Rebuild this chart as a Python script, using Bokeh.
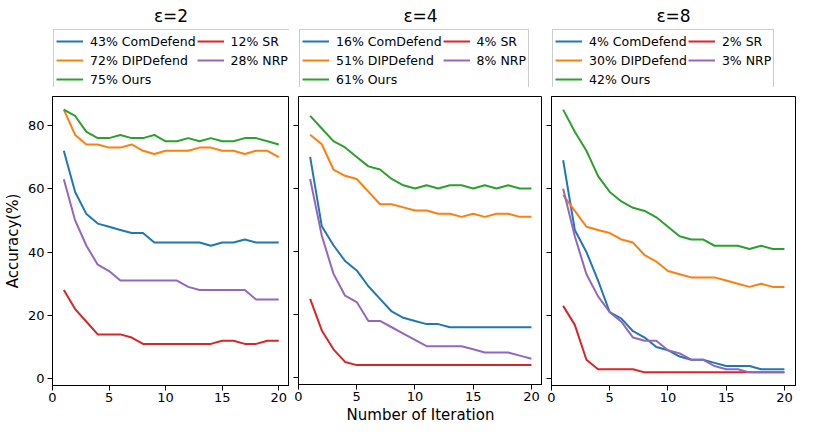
from bokeh.plotting import figure
from bokeh.models import (Legend, LegendItem, Range1d, SingleIntervalTicker,
                          CustomJSTickFormatter)
from bokeh.layouts import row, column
from bokeh.embed import file_html
from bokeh.resources import INLINE

# ---------------- data ----------------
iterations = list(range(1, 21))
methods = ["ComDefend", "DIPDefend", "Ours", "SR", "NRP"]
colors = ["#1f77b4", "#ff7f0e", "#2ca02c", "#d62728", "#9467bd"]
titles = ["ε=2", "ε=4", "ε=8"]

eps2_comdefend = [72, 59, 52, 49, 48, 47, 46, 46, 43, 43, 43, 43, 43, 42, 43, 43, 44, 43, 43, 43]
eps2_dipdefend = [85, 77, 74, 74, 73, 73, 74, 72, 71, 72, 72, 72, 73, 73, 72, 72, 71, 72, 72, 70]
eps2_ours      = [85, 83, 78, 76, 76, 77, 76, 76, 77, 75, 75, 76, 75, 76, 75, 75, 76, 76, 75, 74]
eps2_sr        = [28, 22, 18, 14, 14, 14, 13, 11, 11, 11, 11, 11, 11, 11, 12, 12, 11, 11, 12, 12]
eps2_nrp       = [63, 50, 42, 36, 34, 31, 31, 31, 31, 31, 31, 29, 28, 28, 28, 28, 28, 25, 25, 25]

eps4_comdefend = [70, 48, 42, 37, 34, 29, 25, 21, 19, 18, 17, 17, 16, 16, 16, 16, 16, 16, 16, 16]
eps4_dipdefend = [77, 74, 66, 64, 63, 59, 55, 55, 54, 53, 53, 52, 52, 51, 52, 51, 52, 52, 51, 51]
eps4_ours      = [83, 79, 75, 73, 70, 67, 66, 63, 61, 60, 61, 60, 61, 61, 60, 61, 60, 61, 60, 60]
eps4_sr        = [25, 15, 9, 5, 4, 4, 4, 4, 4, 4, 4, 4, 4, 4, 4, 4, 4, 4, 4, 4]
eps4_nrp       = [63, 45, 33, 26, 24, 18, 18, 16, 14, 12, 10, 10, 10, 10, 9, 8, 8, 8, 7, 6]

eps8_comdefend = [69, 47, 40, 31, 21, 19, 15, 13, 10, 9, 7, 6, 6, 5, 4, 4, 4, 3, 3, 3]
eps8_dipdefend = [58, 53, 48, 47, 46, 44, 43, 39, 37, 34, 33, 32, 32, 32, 31, 30, 29, 30, 29, 29]
eps8_ours      = [85, 78, 72, 64, 59, 56, 54, 53, 51, 48, 45, 44, 44, 42, 42, 42, 41, 42, 41, 41]
eps8_sr        = [23, 17, 6, 3, 3, 3, 3, 2, 2, 2, 2, 2, 2, 2, 2, 2, 2, 2, 2, 2]
eps8_nrp       = [60, 45, 33, 26, 21, 18, 13, 12, 12, 9, 8, 6, 6, 4, 3, 3, 2, 2, 2, 2]

eps2_pct = [43, 72, 75, 12, 28]
eps4_pct = [16, 51, 61, 4, 8]
eps8_pct = [4, 30, 42, 2, 3]

panels = [
    (titles[0], [eps2_comdefend, eps2_dipdefend, eps2_ours, eps2_sr, eps2_nrp], eps2_pct),
    (titles[1], [eps4_comdefend, eps4_dipdefend, eps4_ours, eps4_sr, eps4_nrp], eps4_pct),
    (titles[2], [eps8_comdefend, eps8_dipdefend, eps8_ours, eps8_sr, eps8_nrp], eps8_pct),
]

FONT = "DejaVu Sans"
FRAME_W = 244
LEFTS = [45, 9, 9]
RIGHTS = [0, 0, 2]
HEAD_H = 87
CHART_H = 339
cols = []
for i, (title, series, pct) in enumerate(panels):
    left, right = LEFTS[i], RIGHTS[i]
    W = left + FRAME_W + right

    # ---- header: title + legend ----
    h = figure(width=W, height=HEAD_H,
               x_range=Range1d(0, 1), y_range=Range1d(0, 1),
               output_backend="svg", toolbar_location=None, title=title,
               min_border_left=left, min_border_right=right,
               min_border_top=0, min_border_bottom=0)
    h.axis.visible = False
    h.xgrid.visible = False
    h.ygrid.visible = False
    h.outline_line_color = None
    h.title.text_font = FONT
    h.title.text_font_size = "17px"
    h.title.text_font_style = "normal"
    h.title.text_color = "black"
    h.title.align = "center"
    h.title.offset = 0
    h.title.standoff = 6
    # legend swatches: single-point lines (draw nothing in the header frame)
    swatches = [h.line(iterations[:1], s[:1], line_color=c, line_width=2)
                for s, c in zip(series, colors)]
    items = [LegendItem(label=f"{pc}% {m}", renderers=[r])
             for pc, m, r in zip(pct, methods, swatches)]
    leg = Legend(items=items, ncols=2, orientation="vertical",
                 location="top_left", margin=1, padding=2, spacing=1,
                 glyph_width=27, glyph_height=18, label_height=18,
                 label_standoff=7, label_text_color="black",
                 label_text_font=FONT, label_text_font_size="12.5px",
                 border_line_color="#cccccc", border_line_width=1,
                 border_line_alpha=1,
                 background_fill_color="white", background_fill_alpha=1)
    h.add_layout(leg, "center")

    # ---- chart ----
    p = figure(width=W, height=CHART_H,
               x_range=Range1d(0, 20.95), y_range=Range1d(-2.15, 89.15),
               output_backend="svg", toolbar_location=None,
               min_border_left=left, min_border_right=right,
               min_border_top=9, min_border_bottom=41)
    p.outline_line_color = "black"
    p.outline_line_alpha = 1
    p.xgrid.visible = False
    p.ygrid.visible = False
    for s, c in zip(series, colors):
        p.line(iterations, s, line_color=c, line_width=2)

    for ax in (p.xaxis[0], p.yaxis[0]):
        ax.axis_line_color = "black"
        ax.major_tick_line_color = "black"
        ax.major_tick_out = 5
        ax.major_tick_in = 0
        ax.minor_tick_line_color = None
        ax.major_label_text_font = FONT
        ax.major_label_text_font_size = "13px"
        ax.major_label_text_color = "black"
        ax.major_label_standoff = 2
        ax.axis_label_text_font = FONT
        ax.axis_label_text_font_size = "15px"
        ax.axis_label_text_font_style = "normal"
        ax.axis_label_text_color = "black"
    p.xaxis.ticker = SingleIntervalTicker(interval=5, num_minor_ticks=0)
    p.yaxis.ticker = SingleIntervalTicker(interval=20, num_minor_ticks=0)
    if i == 0:
        p.yaxis.axis_label = "Accuracy(%)"
        p.yaxis.axis_label_standoff = 3
        p.yaxis.major_label_standoff = 3
    else:
        p.yaxis.formatter = CustomJSTickFormatter(code="return ''")
        p.yaxis.major_label_standoff = 0
    if i == 1:
        p.xaxis.axis_label = "Number of Iteration"
        p.xaxis.axis_label_standoff = 2
    cols.append(column(h, p, spacing=0))

layout = row(*cols, spacing=0)
open("out.html", "w").write(file_html(layout, INLINE))
